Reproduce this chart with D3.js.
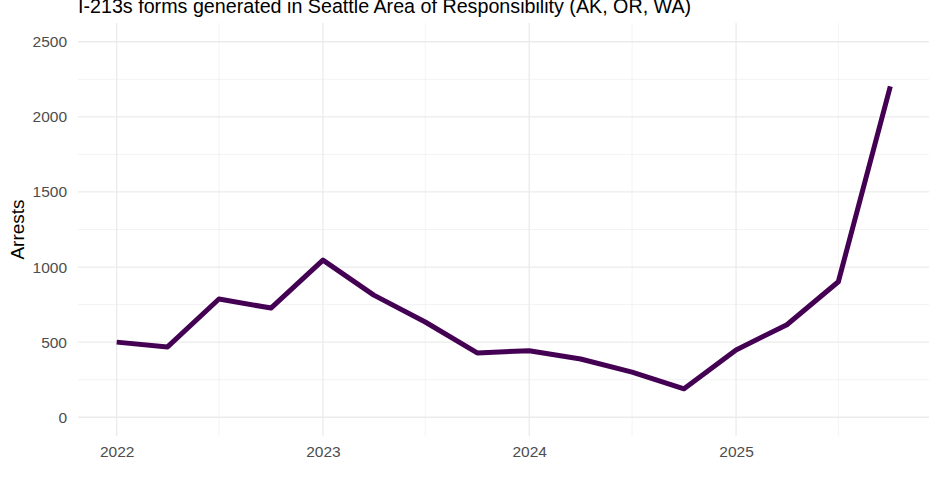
<!DOCTYPE html>
<html>
<head>
<meta charset="utf-8">
<script src="https://cdn.jsdelivr.net/npm/d3@7"></script>
<style>
  body { margin: 0; background: #fff; }
  svg { display: block; font-family: "Liberation Sans", Arial, sans-serif; }
  .grid line { stroke: #ebebeb; }
  .tick-label { fill: #4d4d4d; font-size: 15.5px; }
</style>
</head>
<body>
<div id="chart"></div>
<script>
// quarterly I-213 counts, Seattle AOR
const quarters = ["2022-01-01", "2022-04-01", "2022-07-01", "2022-10-01",
                  "2023-01-01", "2023-04-01", "2023-07-01", "2023-10-01",
                  "2024-01-01", "2024-04-01", "2024-07-01", "2024-10-01",
                  "2025-01-01", "2025-04-01", "2025-07-01", "2025-10-01"];
const arrests = [500, 468, 787, 727, 1046, 813, 634, 428,
                 443, 388, 300, 189, 448, 616, 902, 2203];
const yTicks = [0, 500, 1000, 1500, 2000, 2500];
const yMinor = [250, 750, 1250, 1750, 2250];
const xTicks = ["2022-01-01", "2023-01-01", "2024-01-01", "2025-01-01"];
const xMinor = ["2022-07-01", "2023-07-01", "2024-07-01", "2025-07-01"];
const title = "I-213s forms generated in Seattle Area of Responsibility (AK, OR, WA)";
const yTitle = "Arrests";

const width = 940;
const height = 489;
const margin = {top: 23, left: 78, right: 11, bottom: 53};

const parse = d3.timeParse("%Y-%m-%d");
const data = quarters.map((q, i) => ({date: parse(q), value: arrests[i]}));

const svg = d3.select("#chart")
    .append("svg")
    .attr("width", width)
    .attr("height", height);

// ggplot style 5% expansion
const xExt = d3.extent(data, d => d.date);
const pad = (xExt[1] - xExt[0]) * 0.05;
const xScale = d3.scaleTime()
    .domain([new Date(+xExt[0] - pad), new Date(+xExt[1] + pad)])
    .range([margin.left, width - margin.right]);

const yScale = d3.scaleLinear()
    .domain([-125, 2625])
    .range([height - margin.bottom, margin.top]);

const grid = svg.append("g").attr("class", "grid");

grid.selectAll(".ymin")
    .data(yMinor)
    .join("line")
    .attr("x1", margin.left).attr("x2", width - margin.right)
    .attr("y1", d => yScale(d)).attr("y2", d => yScale(d))
    .attr("stroke-width", 0.6);

grid.selectAll(".xmin")
    .data(xMinor)
    .join("line")
    .attr("class", "xmin")
    .attr("x1", d => xScale(parse(d))).attr("x2", d => xScale(parse(d)))
    .attr("y1", margin.top).attr("y2", height - margin.bottom)
    .attr("stroke-width", 0.6);

grid.selectAll(".ymaj")
    .data(yTicks)
    .join("line")
    .attr("class", "ymaj")
    .attr("x1", margin.left).attr("x2", width - margin.right)
    .attr("y1", d => yScale(d)).attr("y2", d => yScale(d))
    .attr("stroke-width", 1.3);

grid.selectAll(".xmaj")
    .data(xTicks)
    .join("line")
    .attr("class", "xmaj")
    .attr("x1", d => xScale(parse(d))).attr("x2", d => xScale(parse(d)))
    .attr("y1", margin.top).attr("y2", height - margin.bottom)
    .attr("stroke-width", 1.3);

// axes: labels only, theme_minimal has no axis lines
const yAxis = svg.append("g")
    .attr("transform", `translate(${margin.left},0)`)
    .call(d3.axisLeft(yScale).tickValues(yTicks).tickFormat(d3.format("d"))
        .tickSize(0).tickPadding(11));

const xAxis = svg.append("g")
    .attr("transform", `translate(0,${height - margin.bottom})`)
    .call(d3.axisBottom(xScale).tickValues(xTicks.map(parse))
        .tickFormat(d3.timeFormat("%Y")).tickSize(0).tickPadding(10));

[yAxis, xAxis].forEach(function(a) {
    a.select(".domain").remove();
    a.selectAll("text")
        .attr("class", "tick-label")
        .attr("font-family", null)
        .attr("font-size", null);
});

const line = d3.line()
    .x(d => xScale(d.date))
    .y(d => yScale(d.value));

svg.append("path")
    .datum(data)
    .attr("d", line)
    .attr("fill", "none")
    .attr("stroke", "#440154")
    .attr("stroke-width", 5)
    .attr("stroke-linejoin", "round")
    .attr("stroke-linecap", "butt");

svg.append("text")
    .attr("x", margin.left)
    .attr("y", 13)
    .attr("font-size", 19.7)
    .attr("fill", "#000")
    .text(title);

svg.append("text")
    .attr("transform", "rotate(-90)")
    .attr("x", -(margin.top + height - margin.bottom) / 2)
    .attr("y", 23.5)
    .attr("text-anchor", "middle")
    .attr("font-size", 19)
    .attr("fill", "#000")
    .text(yTitle);
</script>
</body>
</html>
